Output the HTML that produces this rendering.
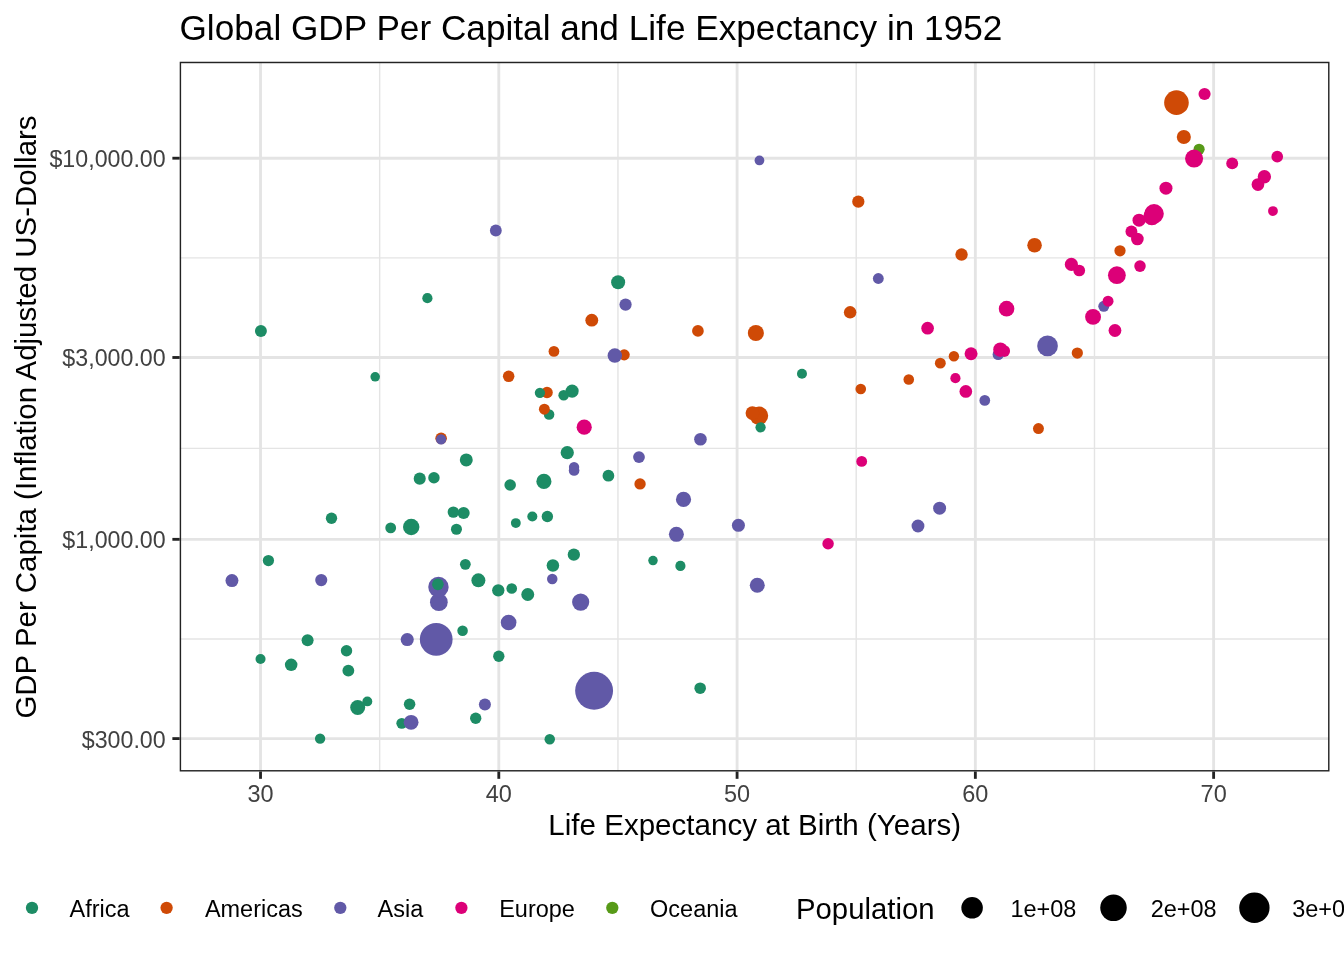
<!DOCTYPE html><html><head><meta charset="utf-8"><style>html,body{margin:0;padding:0;background:#fff;overflow:hidden;width:1344px;height:960px}</style></head><body><svg width="1344" height="960" viewBox="0 0 1344 960" style="display:block;will-change:transform">
<rect width="1344" height="960" fill="#fff"/>
<defs><clipPath id="pc"><rect x="179.7" y="61.8" width="1149.8" height="709.7"/></clipPath></defs>
<g clip-path="url(#pc)">
<line x1="141.40" y1="61.8" x2="141.40" y2="771.5" stroke="#E4E4E4" stroke-width="1.423"/>
<line x1="379.67" y1="61.8" x2="379.67" y2="771.5" stroke="#E4E4E4" stroke-width="1.423"/>
<line x1="617.94" y1="61.8" x2="617.94" y2="771.5" stroke="#E4E4E4" stroke-width="1.423"/>
<line x1="856.21" y1="61.8" x2="856.21" y2="771.5" stroke="#E4E4E4" stroke-width="1.423"/>
<line x1="1094.48" y1="61.8" x2="1094.48" y2="771.5" stroke="#E4E4E4" stroke-width="1.423"/>
<line x1="1332.75" y1="61.8" x2="1332.75" y2="771.5" stroke="#E4E4E4" stroke-width="1.423"/>
<line x1="179.7" y1="638.96" x2="1329.5" y2="638.96" stroke="#E4E4E4" stroke-width="1.423"/>
<line x1="179.7" y1="448.41" x2="1329.5" y2="448.41" stroke="#E4E4E4" stroke-width="1.423"/>
<line x1="179.7" y1="257.85" x2="1329.5" y2="257.85" stroke="#E4E4E4" stroke-width="1.423"/>
<line x1="179.7" y1="838.24" x2="1329.5" y2="838.24" stroke="#E4E4E4" stroke-width="1.423"/>
<line x1="179.7" y1="58.57" x2="1329.5" y2="58.57" stroke="#E4E4E4" stroke-width="1.423"/>
<line x1="260.53" y1="61.8" x2="260.53" y2="771.5" stroke="#E4E4E4" stroke-width="2.845"/>
<line x1="498.80" y1="61.8" x2="498.80" y2="771.5" stroke="#E4E4E4" stroke-width="2.845"/>
<line x1="737.08" y1="61.8" x2="737.08" y2="771.5" stroke="#E4E4E4" stroke-width="2.845"/>
<line x1="975.35" y1="61.8" x2="975.35" y2="771.5" stroke="#E4E4E4" stroke-width="2.845"/>
<line x1="1213.62" y1="61.8" x2="1213.62" y2="771.5" stroke="#E4E4E4" stroke-width="2.845"/>
<line x1="179.7" y1="738.60" x2="1329.5" y2="738.60" stroke="#E4E4E4" stroke-width="2.845"/>
<line x1="179.7" y1="539.33" x2="1329.5" y2="539.33" stroke="#E4E4E4" stroke-width="2.845"/>
<line x1="179.7" y1="357.49" x2="1329.5" y2="357.49" stroke="#E4E4E4" stroke-width="2.845"/>
<line x1="179.7" y1="158.21" x2="1329.5" y2="158.21" stroke="#E4E4E4" stroke-width="2.845"/>
<circle cx="231.96" cy="580.57" r="6.48" fill="#6159A7"/>
<circle cx="861.69" cy="461.42" r="5.40" fill="#DC0078"/>
<circle cx="572.12" cy="391.08" r="6.57" fill="#1D8C65"/>
<circle cx="260.89" cy="331.00" r="5.97" fill="#1D8C65"/>
<circle cx="1034.56" cy="245.23" r="7.28" fill="#CF4A06"/>
<circle cx="1192.65" cy="157.56" r="6.51" fill="#579A18"/>
<circle cx="1137.37" cy="239.02" r="6.32" fill="#DC0078"/>
<circle cx="759.45" cy="160.43" r="4.88" fill="#6159A7"/>
<circle cx="438.85" cy="602.13" r="8.86" fill="#6159A7"/>
<circle cx="1165.96" cy="188.19" r="6.51" fill="#DC0078"/>
<circle cx="456.46" cy="529.25" r="5.52" fill="#1D8C65"/>
<circle cx="508.67" cy="376.32" r="5.75" fill="#CF4A06"/>
<circle cx="828.09" cy="543.77" r="5.73" fill="#DC0078"/>
<circle cx="680.41" cy="565.98" r="5.11" fill="#1D8C65"/>
<circle cx="758.92" cy="415.82" r="9.27" fill="#CF4A06"/>
<circle cx="965.82" cy="391.40" r="6.36" fill="#DC0078"/>
<circle cx="307.59" cy="640.32" r="6.00" fill="#1D8C65"/>
<circle cx="475.72" cy="718.23" r="5.67" fill="#1D8C65"/>
<circle cx="484.91" cy="704.58" r="6.03" fill="#6159A7"/>
<circle cx="463.61" cy="512.96" r="6.08" fill="#1D8C65"/>
<circle cx="1183.83" cy="137.00" r="7.05" fill="#CF4A06"/>
<circle cx="390.70" cy="527.92" r="5.40" fill="#1D8C65"/>
<circle cx="453.34" cy="512.12" r="5.71" fill="#1D8C65"/>
<circle cx="850.13" cy="312.37" r="6.25" fill="#CF4A06"/>
<circle cx="594.11" cy="690.80" r="18.96" fill="#6159A7"/>
<circle cx="752.40" cy="413.08" r="6.85" fill="#CF4A06"/>
<circle cx="515.84" cy="523.10" r="4.92" fill="#1D8C65"/>
<circle cx="478.38" cy="580.34" r="7.00" fill="#1D8C65"/>
<circle cx="549.10" cy="414.52" r="5.27" fill="#1D8C65"/>
<circle cx="908.77" cy="379.46" r="5.30" fill="#CF4A06"/>
<circle cx="510.17" cy="484.99" r="5.77" fill="#1D8C65"/>
<circle cx="1004.18" cy="351.04" r="5.91" fill="#DC0078"/>
<circle cx="961.55" cy="254.58" r="6.21" fill="#CF4A06"/>
<circle cx="1139.04" cy="220.20" r="6.55" fill="#DC0078"/>
<circle cx="1232.20" cy="163.38" r="5.98" fill="#DC0078"/>
<circle cx="375.19" cy="376.81" r="4.77" fill="#1D8C65"/>
<circle cx="640.05" cy="483.90" r="5.68" fill="#CF4A06"/>
<circle cx="697.93" cy="330.93" r="5.86" fill="#CF4A06"/>
<circle cx="543.91" cy="481.42" r="7.57" fill="#1D8C65"/>
<circle cx="624.18" cy="354.84" r="5.58" fill="#CF4A06"/>
<circle cx="367.33" cy="701.39" r="4.97" fill="#1D8C65"/>
<circle cx="401.78" cy="723.36" r="5.44" fill="#1D8C65"/>
<circle cx="357.70" cy="707.44" r="7.49" fill="#1D8C65"/>
<circle cx="1131.41" cy="231.45" r="5.95" fill="#DC0078"/>
<circle cx="1151.91" cy="216.54" r="8.66" fill="#DC0078"/>
<circle cx="427.39" cy="298.15" r="5.10" fill="#1D8C65"/>
<circle cx="260.53" cy="659.02" r="5.02" fill="#1D8C65"/>
<circle cx="1154.05" cy="213.87" r="9.75" fill="#DC0078"/>
<circle cx="573.84" cy="554.70" r="6.15" fill="#1D8C65"/>
<circle cx="1114.97" cy="330.53" r="6.41" fill="#DC0078"/>
<circle cx="547.01" cy="392.49" r="5.79" fill="#CF4A06"/>
<circle cx="346.52" cy="650.71" r="5.71" fill="#1D8C65"/>
<circle cx="320.10" cy="738.69" r="5.17" fill="#1D8C65"/>
<circle cx="441.12" cy="438.37" r="5.80" fill="#CF4A06"/>
<circle cx="544.36" cy="409.21" r="5.46" fill="#CF4A06"/>
<circle cx="998.22" cy="354.51" r="5.60" fill="#6159A7"/>
<circle cx="1071.37" cy="264.43" r="6.59" fill="#DC0078"/>
<circle cx="1272.95" cy="211.04" r="4.91" fill="#DC0078"/>
<circle cx="436.21" cy="639.31" r="16.37" fill="#6159A7"/>
<circle cx="438.47" cy="587.01" r="10.20" fill="#6159A7"/>
<circle cx="614.82" cy="355.55" r="7.24" fill="#6159A7"/>
<circle cx="625.56" cy="304.59" r="6.13" fill="#6159A7"/>
<circle cx="1139.99" cy="266.12" r="5.76" fill="#DC0078"/>
<circle cx="1103.77" cy="306.33" r="5.49" fill="#6159A7"/>
<circle cx="1116.88" cy="275.22" r="8.90" fill="#DC0078"/>
<circle cx="940.32" cy="363.18" r="5.44" fill="#CF4A06"/>
<circle cx="1047.54" cy="345.93" r="10.34" fill="#6159A7"/>
<circle cx="574.05" cy="467.12" r="5.18" fill="#6159A7"/>
<circle cx="552.89" cy="565.54" r="6.26" fill="#1D8C65"/>
<circle cx="738.41" cy="525.32" r="6.53" fill="#6159A7"/>
<circle cx="676.39" cy="534.34" r="7.49" fill="#6159A7"/>
<circle cx="878.32" cy="278.50" r="5.44" fill="#6159A7"/>
<circle cx="549.75" cy="739.24" r="5.24" fill="#1D8C65"/>
<circle cx="462.59" cy="630.76" r="5.28" fill="#1D8C65"/>
<circle cx="563.69" cy="395.28" r="5.33" fill="#1D8C65"/>
<circle cx="419.72" cy="478.63" r="6.04" fill="#1D8C65"/>
<circle cx="409.59" cy="704.26" r="5.75" fill="#1D8C65"/>
<circle cx="700.45" cy="439.20" r="6.30" fill="#6159A7"/>
<circle cx="348.34" cy="670.63" r="5.91" fill="#1D8C65"/>
<circle cx="511.74" cy="588.47" r="5.33" fill="#1D8C65"/>
<circle cx="760.57" cy="427.27" r="5.14" fill="#1D8C65"/>
<circle cx="755.87" cy="333.01" r="8.04" fill="#CF4A06"/>
<circle cx="552.27" cy="579.06" r="5.25" fill="#6159A7"/>
<circle cx="955.43" cy="378.17" r="5.09" fill="#DC0078"/>
<circle cx="567.26" cy="452.65" r="6.63" fill="#1D8C65"/>
<circle cx="291.17" cy="664.81" r="6.26" fill="#1D8C65"/>
<circle cx="411.10" cy="722.33" r="7.43" fill="#6159A7"/>
<circle cx="539.91" cy="392.79" r="5.13" fill="#1D8C65"/>
<circle cx="407.24" cy="639.53" r="6.56" fill="#6159A7"/>
<circle cx="1264.37" cy="176.73" r="6.67" fill="#DC0078"/>
<circle cx="1199.08" cy="149.25" r="5.57" fill="#579A18"/>
<circle cx="553.94" cy="351.40" r="5.37" fill="#CF4A06"/>
<circle cx="437.90" cy="584.34" r="5.83" fill="#1D8C65"/>
<circle cx="411.22" cy="527.01" r="8.20" fill="#1D8C65"/>
<circle cx="1277.24" cy="156.64" r="5.83" fill="#DC0078"/>
<circle cx="441.09" cy="439.46" r="5.14" fill="#6159A7"/>
<circle cx="580.67" cy="602.04" r="8.61" fill="#6159A7"/>
<circle cx="860.76" cy="388.97" r="5.30" fill="#CF4A06"/>
<circle cx="1038.46" cy="428.59" r="5.47" fill="#CF4A06"/>
<circle cx="591.78" cy="320.18" r="6.44" fill="#CF4A06"/>
<circle cx="683.51" cy="499.39" r="7.59" fill="#6159A7"/>
<circle cx="1006.56" cy="308.66" r="7.79" fill="#DC0078"/>
<circle cx="971.06" cy="353.76" r="6.49" fill="#DC0078"/>
<circle cx="1077.33" cy="353.03" r="5.62" fill="#CF4A06"/>
<circle cx="801.98" cy="373.77" r="5.00" fill="#1D8C65"/>
<circle cx="1000.37" cy="349.70" r="7.19" fill="#DC0078"/>
<circle cx="498.80" cy="656.28" r="5.68" fill="#1D8C65"/>
<circle cx="652.99" cy="560.56" r="4.74" fill="#1D8C65"/>
<circle cx="495.83" cy="230.55" r="5.93" fill="#6159A7"/>
<circle cx="433.95" cy="477.79" r="5.73" fill="#1D8C65"/>
<circle cx="927.60" cy="328.17" r="6.31" fill="#DC0078"/>
<circle cx="268.42" cy="560.52" r="5.61" fill="#1D8C65"/>
<circle cx="984.78" cy="400.38" r="5.36" fill="#6159A7"/>
<circle cx="1079.23" cy="270.49" r="5.86" fill="#DC0078"/>
<circle cx="1108.06" cy="301.20" r="5.46" fill="#DC0078"/>
<circle cx="331.49" cy="518.26" r="5.68" fill="#1D8C65"/>
<circle cx="618.15" cy="282.29" r="7.01" fill="#1D8C65"/>
<circle cx="1093.05" cy="316.89" r="7.95" fill="#DC0078"/>
<circle cx="917.99" cy="526.05" r="6.43" fill="#6159A7"/>
<circle cx="466.28" cy="459.89" r="6.49" fill="#1D8C65"/>
<circle cx="532.33" cy="516.43" r="5.02" fill="#1D8C65"/>
<circle cx="1257.94" cy="184.57" r="6.34" fill="#DC0078"/>
<circle cx="1204.56" cy="94.06" r="6.05" fill="#DC0078"/>
<circle cx="638.98" cy="457.09" r="5.88" fill="#6159A7"/>
<circle cx="939.61" cy="508.19" r="6.49" fill="#6159A7"/>
<circle cx="527.75" cy="594.47" r="6.47" fill="#1D8C65"/>
<circle cx="757.28" cy="585.23" r="7.51" fill="#6159A7"/>
<circle cx="465.35" cy="564.33" r="5.38" fill="#1D8C65"/>
<circle cx="953.90" cy="356.21" r="5.20" fill="#CF4A06"/>
<circle cx="608.41" cy="475.73" r="5.88" fill="#1D8C65"/>
<circle cx="584.22" cy="427.18" r="7.58" fill="#DC0078"/>
<circle cx="498.28" cy="590.34" r="6.18" fill="#1D8C65"/>
<circle cx="1194.08" cy="158.55" r="9.02" fill="#DC0078"/>
<circle cx="1176.45" cy="102.63" r="12.31" fill="#CF4A06"/>
<circle cx="1120.00" cy="250.76" r="5.63" fill="#CF4A06"/>
<circle cx="858.31" cy="201.69" r="6.13" fill="#CF4A06"/>
<circle cx="508.62" cy="622.48" r="7.82" fill="#6159A7"/>
<circle cx="574.10" cy="470.50" r="5.33" fill="#6159A7"/>
<circle cx="321.24" cy="580.09" r="6.07" fill="#6159A7"/>
<circle cx="547.36" cy="516.57" r="5.71" fill="#1D8C65"/>
<circle cx="700.17" cy="688.16" r="5.78" fill="#1D8C65"/>
<rect x="179.7" y="61.8" width="1149.8" height="709.7" fill="none" stroke="#232323" stroke-width="2.845"/>
</g>
<line x1="260.53" y1="771.5" x2="260.53" y2="778.83" stroke="#232323" stroke-width="2.845"/>
<line x1="498.80" y1="771.5" x2="498.80" y2="778.83" stroke="#232323" stroke-width="2.845"/>
<line x1="737.08" y1="771.5" x2="737.08" y2="778.83" stroke="#232323" stroke-width="2.845"/>
<line x1="975.35" y1="771.5" x2="975.35" y2="778.83" stroke="#232323" stroke-width="2.845"/>
<line x1="1213.62" y1="771.5" x2="1213.62" y2="778.83" stroke="#232323" stroke-width="2.845"/>
<line x1="172.37" y1="738.60" x2="179.7" y2="738.60" stroke="#232323" stroke-width="2.845"/>
<line x1="172.37" y1="539.33" x2="179.7" y2="539.33" stroke="#232323" stroke-width="2.845"/>
<line x1="172.37" y1="357.49" x2="179.7" y2="357.49" stroke="#232323" stroke-width="2.845"/>
<line x1="172.37" y1="158.21" x2="179.7" y2="158.21" stroke="#232323" stroke-width="2.845"/>
<text transform="translate(260.53,802.00) scale(1.0,1.0)" font-size="23.47" fill="#414141" text-anchor="middle" font-family='"Liberation Sans", sans-serif'>30</text>
<text transform="translate(498.80,802.00) scale(1.0,1.0)" font-size="23.47" fill="#414141" text-anchor="middle" font-family='"Liberation Sans", sans-serif'>40</text>
<text transform="translate(737.08,802.00) scale(1.0,1.0)" font-size="23.47" fill="#414141" text-anchor="middle" font-family='"Liberation Sans", sans-serif'>50</text>
<text transform="translate(975.35,802.00) scale(1.0,1.0)" font-size="23.47" fill="#414141" text-anchor="middle" font-family='"Liberation Sans", sans-serif'>60</text>
<text transform="translate(1213.62,802.00) scale(1.0,1.0)" font-size="23.47" fill="#414141" text-anchor="middle" font-family='"Liberation Sans", sans-serif'>70</text>
<text transform="translate(165.70,747.50) scale(0.99,1.0)" font-size="23.47" fill="#414141" text-anchor="end" font-family='"Liberation Sans", sans-serif'>$300.00</text>
<text transform="translate(165.70,548.23) scale(0.99,1.0)" font-size="23.47" fill="#414141" text-anchor="end" font-family='"Liberation Sans", sans-serif'>$1,000.00</text>
<text transform="translate(165.70,366.39) scale(0.99,1.0)" font-size="23.47" fill="#414141" text-anchor="end" font-family='"Liberation Sans", sans-serif'>$3,000.00</text>
<text transform="translate(165.70,167.11) scale(0.99,1.0)" font-size="23.47" fill="#414141" text-anchor="end" font-family='"Liberation Sans", sans-serif'>$10,000.00</text>
<text transform="translate(754.75,835.00) scale(1.008,1.015)" font-size="29.33" fill="#000" text-anchor="middle" font-family='"Liberation Sans", sans-serif'>Life Expectancy at Birth (Years)</text>
<text transform="translate(35.50,417.00) rotate(-90) scale(1.004,1.015)" font-size="29.33" fill="#000" text-anchor="middle" font-family='"Liberation Sans", sans-serif'>GDP Per Capita (Inflation Adjusted US-Dollars</text>
<text transform="translate(179.50,39.90) scale(1.0,1.015)" font-size="35.20" fill="#000" text-anchor="start" font-family='"Liberation Sans", sans-serif'>Global GDP Per Capital and Life Expectancy in 1952</text>
<circle cx="32.0" cy="907.8" r="6.16" fill="#1D8C65"/>
<text transform="translate(69.60,916.80) scale(1.0,1.0)" font-size="23.47" fill="#000" text-anchor="start" font-family='"Liberation Sans", sans-serif'>Africa</text>
<circle cx="166.6" cy="907.8" r="6.16" fill="#CF4A06"/>
<text transform="translate(204.90,916.80) scale(1.0,1.0)" font-size="23.47" fill="#000" text-anchor="start" font-family='"Liberation Sans", sans-serif'>Americas</text>
<circle cx="340.3" cy="907.8" r="6.16" fill="#6159A7"/>
<text transform="translate(377.60,916.80) scale(1.0,1.0)" font-size="23.47" fill="#000" text-anchor="start" font-family='"Liberation Sans", sans-serif'>Asia</text>
<circle cx="461.4" cy="907.8" r="6.16" fill="#DC0078"/>
<text transform="translate(499.20,916.80) scale(1.0,1.0)" font-size="23.47" fill="#000" text-anchor="start" font-family='"Liberation Sans", sans-serif'>Europe</text>
<circle cx="612.3" cy="907.8" r="6.16" fill="#579A18"/>
<text transform="translate(650.10,916.80) scale(1.0,1.0)" font-size="23.47" fill="#000" text-anchor="start" font-family='"Liberation Sans", sans-serif'>Oceania</text>
<text transform="translate(796.00,918.90) scale(1.0,1.015)" font-size="29.33" fill="#000" text-anchor="start" font-family='"Liberation Sans", sans-serif'>Population</text>
<circle cx="972.1" cy="907.8" r="10.77" fill="#000"/>
<text transform="translate(1010.40,916.80) scale(1.0,1.0)" font-size="23.47" fill="#000" text-anchor="start" font-family='"Liberation Sans", sans-serif'>1e+08</text>
<circle cx="1113.5" cy="907.8" r="13.26" fill="#000"/>
<text transform="translate(1150.70,916.80) scale(1.0,1.0)" font-size="23.47" fill="#000" text-anchor="start" font-family='"Liberation Sans", sans-serif'>2e+08</text>
<circle cx="1254.4" cy="907.8" r="15.18" fill="#000"/>
<text transform="translate(1292.20,916.80) scale(1.0,1.0)" font-size="23.47" fill="#000" text-anchor="start" font-family='"Liberation Sans", sans-serif'>3e+08</text>
<circle cx="1400" cy="907.8" r="16.80" fill="#000"/>
<text transform="translate(1440.00,916.80) scale(1.0,1.0)" font-size="23.47" fill="#000" text-anchor="start" font-family='"Liberation Sans", sans-serif'>4e+08</text>
<circle cx="1550" cy="907.8" r="18.22" fill="#000"/>
<text transform="translate(1590.00,916.80) scale(1.0,1.0)" font-size="23.47" fill="#000" text-anchor="start" font-family='"Liberation Sans", sans-serif'>5e+08</text>
</svg></body></html>
